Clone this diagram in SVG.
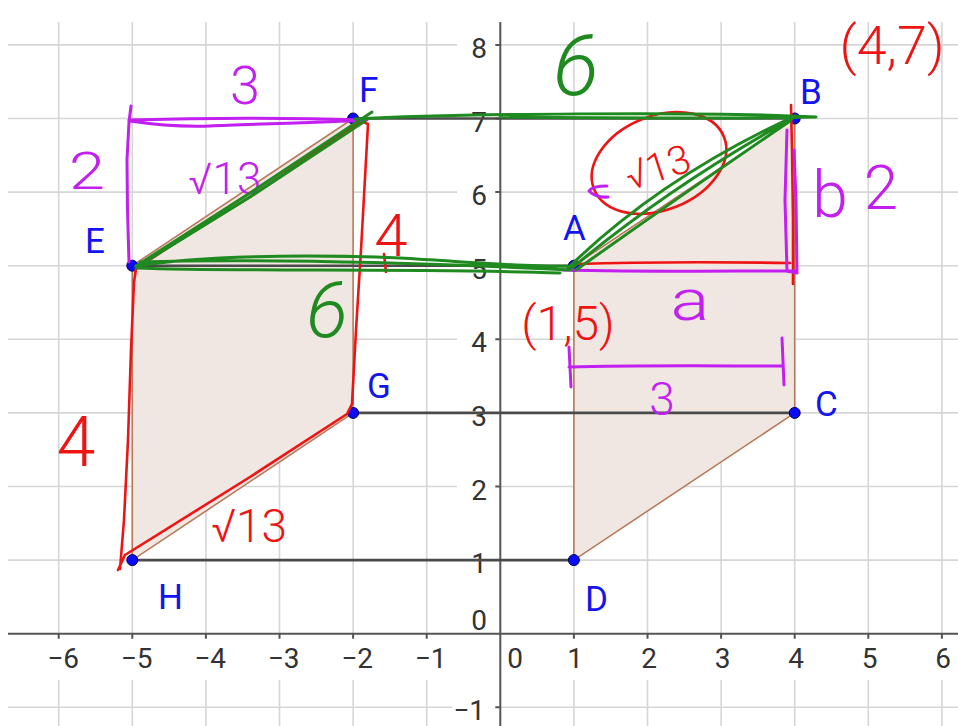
<svg xmlns="http://www.w3.org/2000/svg" width="958" height="726" viewBox="0 0 958 726">
<style>
.grid{stroke:#d6d6d6;stroke-width:1.6;fill:none}
.axis{stroke:#555;stroke-width:2;fill:none}
.tick{font-family:Roboto,"Liberation Sans",sans-serif;font-size:28px;fill:#333}
.seg{stroke:#4a4a4a;stroke-width:2.6;fill:none}
.poly{fill:#f1e7e2;stroke:#b8795a;stroke-width:1.6}
.pt{fill:#0b0bf5;stroke:#00005a;stroke-width:1}
.lbl{font-family:Roboto,"Liberation Sans",sans-serif;font-size:35px;fill:#1414f0}
.mg{stroke:#c21ff0;stroke-width:3;fill:none;stroke-linecap:round;stroke-linejoin:round}
.rd{stroke:#ef1414;stroke-width:2.6;fill:none;stroke-linecap:round;stroke-linejoin:round}
.gr{stroke:#1f8a1f;stroke-width:3;fill:none;stroke-linecap:round;stroke-linejoin:round}
.hw{font-family:Roboto,"Liberation Sans",sans-serif;font-weight:300}
.tmg{fill:#c21ff0}
.trd{fill:#ef1414}
.tgr{fill:#1f8a1f}
</style>
<rect width="958" height="726" fill="#ffffff"/>
<g id="grid">
<path class="grid" d="M58.7,22V637M132.3,22V637M205.9,22V637M279.5,22V637M353.1,22V637M426.7,22V637M573.9,22V637M647.5,22V637M721.1,22V637M794.7,22V637M868.3,22V637M941.9,22V637
M58.7,680V726M132.3,680V726M205.9,680V726M279.5,680V726M353.1,680V726M426.7,680V726M573.9,680V726M647.5,680V726M721.1,680V726M794.7,680V726M868.3,680V726M941.9,680V726"/>
<path class="grid" d="M8,44.9H457M8,118.5H457M8,192.1H457M8,265.7H457M8,339.3H457M8,412.9H457M8,486.5H457M8,560.1H457M8,707.3H452
M500,44.9H958M500,118.5H958M500,192.1H958M500,265.7H958M500,339.3H958M500,412.9H958M500,486.5H958M500,560.1H958M500,707.3H958"/>
</g>
<g id="axes">
<path class="axis" d="M8,633.7H958M500.3,22V726"/>
<path class="axis" d="M58.7,633.7v5M132.3,633.7v5M205.9,633.7v5M279.5,633.7v5M353.1,633.7v5M426.7,633.7v5M573.9,633.7v5M647.5,633.7v5M721.1,633.7v5M794.7,633.7v5M868.3,633.7v5M941.9,633.7v5
M495.3,44.9h5M495.3,118.5h5M495.3,192.1h5M495.3,265.7h5M495.3,339.3h5M495.3,412.9h5M495.3,486.5h5M495.3,560.1h5M495.3,707.3h5"/>
<g class="tick" text-anchor="middle">
<text x="63" y="668">−6</text><text x="136.5" y="668">−5</text><text x="210" y="668">−4</text><text x="283.5" y="668">−3</text><text x="357" y="668">−2</text><text x="430.5" y="668">−1</text>
<text x="515" y="668">0</text><text x="575" y="668">1</text><text x="649" y="668">2</text><text x="722.5" y="668">3</text><text x="796" y="668">4</text><text x="869.5" y="668">5</text><text x="943" y="668">6</text>
</g>
<g class="tick" text-anchor="end">
<text x="487" y="58">8</text><text x="487" y="131.5">7</text><text x="487" y="205">6</text><text x="487" y="278.5">5</text><text x="487" y="352">4</text><text x="487" y="426">3</text><text x="487" y="499.5">2</text><text x="487" y="573">1</text><text x="487" y="630">0</text><text x="485" y="720">−1</text>
</g>
</g>
<g id="shapes">
<polygon id="left-shape" class="poly" points="132.3,265.7 353.1,118.5 353.1,412.9 132.3,560.1"/>
<polygon id="right-shape" class="poly" points="573.9,265.7 794.7,118.5 794.7,412.9 573.9,560.1"/>
</g>
<g id="connectors">
<path class="seg" d="M353.1,118.5H794.7M132.3,265.7H573.9M353.1,412.9H794.7M132.3,560.1H573.9"/>
</g>
<g id="node-F"><circle class="pt" cx="353.1" cy="118.5" r="5.5"/><text class="lbl" x="359" y="102">F</text></g>
<g id="node-B"><circle class="pt" cx="794.7" cy="118.5" r="5.5"/><text class="lbl" x="800" y="104">B</text></g>
<g id="node-E"><circle class="pt" cx="132.3" cy="265.7" r="5.5"/><text class="lbl" x="85" y="253">E</text></g>
<g id="node-A"><circle class="pt" cx="573.9" cy="265.7" r="5.5"/><text class="lbl" x="563" y="240">A</text></g>
<g id="node-G"><circle class="pt" cx="353.1" cy="412.9" r="5.5"/><text class="lbl" x="367" y="398">G</text></g>
<g id="node-C"><circle class="pt" cx="794.7" cy="412.9" r="5.5"/><text class="lbl" x="815" y="416">C</text></g>
<g id="node-H"><circle class="pt" cx="132.3" cy="560.1" r="5.5"/><text class="lbl" x="158" y="609">H</text></g>
<g id="node-D"><circle class="pt" cx="573.9" cy="560.1" r="5.5"/><text class="lbl" x="585" y="611">D</text></g>
<g id="ink-red">
<path class="rd" d="M120,569 L124,520 L128,440 L131,350 L134,282 L136,269 L175,243 L250,197 L330,142 L361,121 L368,124 L366,160 L361,250 L356,330 L352,404 L347,414 L250,477 L125,555 L118,570"/>
<path class="rd" d="M576,264 C640,262 720,262 790,263 M791,105 L792,150 L793,220 L793,284"/>
<path class="rd" d="M384,254 L386,272"/>
<ellipse class="rd" cx="659" cy="163" rx="70" ry="47" transform="rotate(-22 659 163)"/>
<g class="hw trd">
<text x="892" y="64" font-size="54" text-anchor="middle">(4,7)</text>
<text x="568" y="340" font-size="48" text-anchor="middle">(1,5)</text>
<text x="658" y="181" font-size="40" text-anchor="middle" transform="rotate(-18 658 168)">√13</text>
<text x="391" y="256" font-size="60" text-anchor="middle">4</text>
<text x="76" y="466" font-size="70" text-anchor="middle">4</text>
<text x="249" y="542" font-size="46" text-anchor="middle">√13</text>
</g>
</g>
<g id="ink-magenta">
<path class="mg" d="M131,106 L129,122 L127,160 L127.5,210 L129,262"/>
<path class="mg" d="M129,120 C200,118 300,118 367,120 C320,123 250,124 210,126 C180,127 150,124 130,121"/>
<path class="mg" d="M787,130 L785,200 L787,271 L797,273 L796,200 L794,150"/>
<path class="mg" d="M562,270 C650,272 720,271 795,271"/>
<path class="mg" d="M569,347 L571,387 M569,367 C640,365 720,366 783,366 M782,338 L784,385"/>
<path class="mg" d="M607,186 Q592,186 589,191 Q596,198 608,197"/>
<g class="hw tmg" text-anchor="middle">
<text x="245" y="104" font-size="54">3</text>
<text x="87" y="189" font-size="52" transform="translate(87 0) scale(1.25 1) translate(-87 0)">2</text>
<text x="225" y="194" font-size="44">√13</text>
<text x="830" y="217" font-size="64">b</text>
<text x="881" y="209" font-size="62">2</text>
<text x="690" y="320" font-size="58" transform="translate(690 0) scale(1.25 1) translate(-690 0)">a</text>
<text x="662" y="415" font-size="46">3</text>
</g>
</g>
<g id="ink-green">
<path class="gr" d="M136,266 L250,193 L372,112 M140,265 L250,197 L365,121"/>
<path class="gr" d="M355,119 C450,114 700,111 816,117 C700,119 600,118 500,117"/>
<path class="gr" d="M136,266 C200,256 300,254 400,258 C470,262 540,268 572,266 M136,268 C250,272 400,268 560,273 M140,262 C250,259 400,262 570,270"/>
<path class="gr" d="M568,268 Q660,178 795,116 M572,268 Q670,186 793,118 M576,270 Q680,196 790,121"/>
<g class="hw tgr" text-anchor="middle" font-style="italic">
<text x="576" y="95" font-size="86">6</text>
<text x="327" y="337" font-size="78">6</text>
</g>
</g>
</svg>
